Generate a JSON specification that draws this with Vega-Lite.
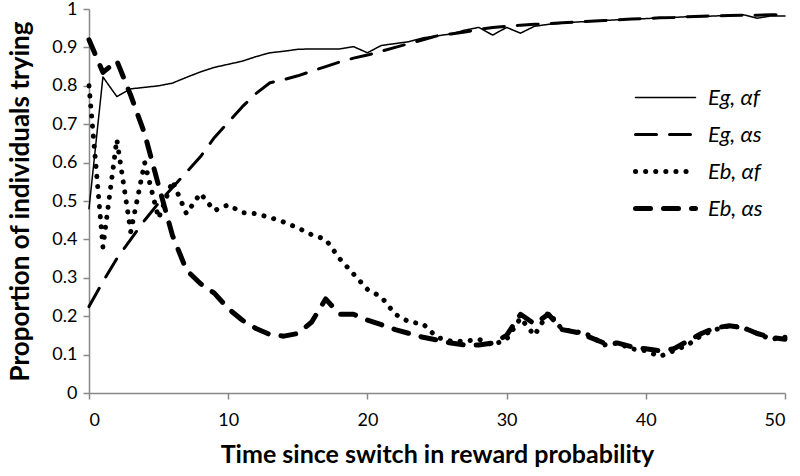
{
  "$schema": "https://vega.github.io/schema/vega-lite/v6.json",
  "width": 696,
  "height": 384,
  "autosize": {"type": "none"},
  "padding": {"left": 89, "top": 9, "right": 15, "bottom": 83},
  "background": "white",
  "config": {
    "view": {"stroke": null},
    "font": "Lato",
    "axis": {
      "grid": false,
      "domainColor": "#888888",
      "tickColor": "#888888",
      "domainWidth": 1.5,
      "tickWidth": 1.5,
      "tickSize": 6,
      "labelColor": "black",
      "labelFont": "Lato",
      "labelFontSize": 18,
      "titleFont": "Lato",
      "titleFontSize": 25,
      "titleFontWeight": "bold",
      "titleColor": "black"
    }
  },
  "data": {
    "values": [
      {"t":0,"s":"Eg, αf","v":0.48},{"t":1,"s":"Eg, αf","v":0.823},{"t":2,"s":"Eg, αf","v":0.772},{"t":3,"s":"Eg, αf","v":0.792},{"t":4,"s":"Eg, αf","v":0.796},{"t":5,"s":"Eg, αf","v":0.8},{"t":6,"s":"Eg, αf","v":0.807},{"t":7,"s":"Eg, αf","v":0.822},{"t":8,"s":"Eg, αf","v":0.836},{"t":9,"s":"Eg, αf","v":0.848},{"t":10,"s":"Eg, αf","v":0.856},{"t":11,"s":"Eg, αf","v":0.864},{"t":12,"s":"Eg, αf","v":0.876},{"t":13,"s":"Eg, αf","v":0.886},{"t":14,"s":"Eg, αf","v":0.89},{"t":15,"s":"Eg, αf","v":0.895},{"t":16,"s":"Eg, αf","v":0.896},{"t":17,"s":"Eg, αf","v":0.896},{"t":18,"s":"Eg, αf","v":0.896},{"t":19,"s":"Eg, αf","v":0.902},{"t":20,"s":"Eg, αf","v":0.886},{"t":21,"s":"Eg, αf","v":0.905},{"t":22,"s":"Eg, αf","v":0.91},{"t":23,"s":"Eg, αf","v":0.915},{"t":24,"s":"Eg, αf","v":0.925},{"t":25,"s":"Eg, αf","v":0.93},{"t":26,"s":"Eg, αf","v":0.935},{"t":27,"s":"Eg, αf","v":0.945},{"t":28,"s":"Eg, αf","v":0.952},{"t":29,"s":"Eg, αf","v":0.932},{"t":30,"s":"Eg, αf","v":0.952},{"t":31,"s":"Eg, αf","v":0.937},{"t":32,"s":"Eg, αf","v":0.955},{"t":33,"s":"Eg, αf","v":0.96},{"t":34,"s":"Eg, αf","v":0.963},{"t":35,"s":"Eg, αf","v":0.966},{"t":36,"s":"Eg, αf","v":0.968},{"t":37,"s":"Eg, αf","v":0.97},{"t":38,"s":"Eg, αf","v":0.972},{"t":39,"s":"Eg, αf","v":0.974},{"t":40,"s":"Eg, αf","v":0.975},{"t":41,"s":"Eg, αf","v":0.977},{"t":42,"s":"Eg, αf","v":0.978},{"t":43,"s":"Eg, αf","v":0.98},{"t":44,"s":"Eg, αf","v":0.98},{"t":45,"s":"Eg, αf","v":0.982},{"t":46,"s":"Eg, αf","v":0.983},{"t":47,"s":"Eg, αf","v":0.985},{"t":48,"s":"Eg, αf","v":0.976},{"t":49,"s":"Eg, αf","v":0.982},{"t":50,"s":"Eg, αf","v":0.982},

      {"t":0,"s":"Eg, αs","v":0.225},{"t":1,"s":"Eg, αs","v":0.29},{"t":2,"s":"Eg, αs","v":0.35},{"t":3,"s":"Eg, αs","v":0.4},{"t":4,"s":"Eg, αs","v":0.45},{"t":5,"s":"Eg, αs","v":0.495},{"t":6,"s":"Eg, αs","v":0.535},{"t":7,"s":"Eg, αs","v":0.575},{"t":8,"s":"Eg, αs","v":0.615},{"t":9,"s":"Eg, αs","v":0.665},{"t":10,"s":"Eg, αs","v":0.705},{"t":11,"s":"Eg, αs","v":0.745},{"t":12,"s":"Eg, αs","v":0.78},{"t":13,"s":"Eg, αs","v":0.808},{"t":14,"s":"Eg, αs","v":0.816},{"t":15,"s":"Eg, αs","v":0.826},{"t":16,"s":"Eg, αs","v":0.838},{"t":17,"s":"Eg, αs","v":0.85},{"t":18,"s":"Eg, αs","v":0.862},{"t":19,"s":"Eg, αs","v":0.872},{"t":20,"s":"Eg, αs","v":0.88},{"t":21,"s":"Eg, αs","v":0.89},{"t":22,"s":"Eg, αs","v":0.9},{"t":23,"s":"Eg, αs","v":0.91},{"t":24,"s":"Eg, αs","v":0.92},{"t":25,"s":"Eg, αs","v":0.93},{"t":26,"s":"Eg, αs","v":0.935},{"t":27,"s":"Eg, αs","v":0.94},{"t":28,"s":"Eg, αs","v":0.947},{"t":29,"s":"Eg, αs","v":0.952},{"t":30,"s":"Eg, αs","v":0.955},{"t":31,"s":"Eg, αs","v":0.958},{"t":32,"s":"Eg, αs","v":0.96},{"t":33,"s":"Eg, αs","v":0.962},{"t":34,"s":"Eg, αs","v":0.964},{"t":35,"s":"Eg, αs","v":0.966},{"t":36,"s":"Eg, αs","v":0.968},{"t":37,"s":"Eg, αs","v":0.97},{"t":38,"s":"Eg, αs","v":0.972},{"t":39,"s":"Eg, αs","v":0.974},{"t":40,"s":"Eg, αs","v":0.975},{"t":41,"s":"Eg, αs","v":0.977},{"t":42,"s":"Eg, αs","v":0.978},{"t":43,"s":"Eg, αs","v":0.98},{"t":44,"s":"Eg, αs","v":0.981},{"t":45,"s":"Eg, αs","v":0.982},{"t":46,"s":"Eg, αs","v":0.983},{"t":47,"s":"Eg, αs","v":0.984},{"t":48,"s":"Eg, αs","v":0.984},{"t":49,"s":"Eg, αs","v":0.985},{"t":50,"s":"Eg, αs","v":0.985},

      {"t":0,"s":"Eb, αf","v":0.8},{"t":1,"s":"Eb, αf","v":0.38},{"t":2,"s":"Eb, αf","v":0.66},{"t":3,"s":"Eb, αf","v":0.42},{"t":4,"s":"Eb, αf","v":0.6},{"t":5,"s":"Eb, αf","v":0.455},{"t":6,"s":"Eb, αf","v":0.552},{"t":7,"s":"Eb, αf","v":0.467},{"t":8,"s":"Eb, αf","v":0.52},{"t":9,"s":"Eb, αf","v":0.475},{"t":10,"s":"Eb, αf","v":0.49},{"t":11,"s":"Eb, αf","v":0.47},{"t":12,"s":"Eb, αf","v":0.467},{"t":13,"s":"Eb, αf","v":0.457},{"t":14,"s":"Eb, αf","v":0.445},{"t":15,"s":"Eb, αf","v":0.43},{"t":16,"s":"Eb, αf","v":0.412},{"t":17,"s":"Eb, αf","v":0.4},{"t":18,"s":"Eb, αf","v":0.35},{"t":19,"s":"Eb, αf","v":0.31},{"t":20,"s":"Eb, αf","v":0.27},{"t":21,"s":"Eb, αf","v":0.25},{"t":22,"s":"Eb, αf","v":0.205},{"t":23,"s":"Eb, αf","v":0.185},{"t":24,"s":"Eb, αf","v":0.18},{"t":25,"s":"Eb, αf","v":0.145},{"t":26,"s":"Eb, αf","v":0.135},{"t":27,"s":"Eb, αf","v":0.135},{"t":28,"s":"Eb, αf","v":0.14},{"t":29,"s":"Eb, αf","v":0.125},{"t":30,"s":"Eb, αf","v":0.14},{"t":31,"s":"Eb, αf","v":0.195},{"t":32,"s":"Eb, αf","v":0.15},{"t":33,"s":"Eb, αf","v":0.21},{"t":34,"s":"Eb, αf","v":0.165},{"t":35,"s":"Eb, αf","v":0.16},{"t":36,"s":"Eb, αf","v":0.15},{"t":37,"s":"Eb, αf","v":0.125},{"t":38,"s":"Eb, αf","v":0.13},{"t":39,"s":"Eb, αf","v":0.115},{"t":40,"s":"Eb, αf","v":0.11},{"t":41,"s":"Eb, αf","v":0.095},{"t":42,"s":"Eb, αf","v":0.11},{"t":43,"s":"Eb, αf","v":0.125},{"t":44,"s":"Eb, αf","v":0.15},{"t":45,"s":"Eb, αf","v":0.165},{"t":46,"s":"Eb, αf","v":0.175},{"t":47,"s":"Eb, αf","v":0.17},{"t":48,"s":"Eb, αf","v":0.155},{"t":49,"s":"Eb, αf","v":0.14},{"t":50,"s":"Eb, αf","v":0.145},

      {"t":0,"s":"Eb, αs","v":0.92},{"t":1,"s":"Eb, αs","v":0.835},{"t":2,"s":"Eb, αs","v":0.865},{"t":3,"s":"Eb, αs","v":0.775},{"t":4,"s":"Eb, αs","v":0.675},{"t":5,"s":"Eb, αs","v":0.54},{"t":6,"s":"Eb, αs","v":0.41},{"t":7,"s":"Eb, αs","v":0.32},{"t":8,"s":"Eb, αs","v":0.285},{"t":9,"s":"Eb, αs","v":0.26},{"t":10,"s":"Eb, αs","v":0.22},{"t":11,"s":"Eb, αs","v":0.19},{"t":12,"s":"Eb, αs","v":0.168},{"t":13,"s":"Eb, αs","v":0.152},{"t":14,"s":"Eb, αs","v":0.148},{"t":15,"s":"Eb, αs","v":0.155},{"t":16,"s":"Eb, αs","v":0.185},{"t":17,"s":"Eb, αs","v":0.245},{"t":18,"s":"Eb, αs","v":0.205},{"t":19,"s":"Eb, αs","v":0.205},{"t":20,"s":"Eb, αs","v":0.19},{"t":21,"s":"Eb, αs","v":0.178},{"t":22,"s":"Eb, αs","v":0.165},{"t":23,"s":"Eb, αs","v":0.155},{"t":24,"s":"Eb, αs","v":0.145},{"t":25,"s":"Eb, αs","v":0.138},{"t":26,"s":"Eb, αs","v":0.13},{"t":27,"s":"Eb, αs","v":0.125},{"t":28,"s":"Eb, αs","v":0.125},{"t":29,"s":"Eb, αs","v":0.13},{"t":30,"s":"Eb, αs","v":0.15},{"t":31,"s":"Eb, αs","v":0.205},{"t":32,"s":"Eb, αs","v":0.18},{"t":33,"s":"Eb, αs","v":0.205},{"t":34,"s":"Eb, αs","v":0.165},{"t":35,"s":"Eb, αs","v":0.158},{"t":36,"s":"Eb, αs","v":0.145},{"t":37,"s":"Eb, αs","v":0.13},{"t":38,"s":"Eb, αs","v":0.13},{"t":39,"s":"Eb, αs","v":0.12},{"t":40,"s":"Eb, αs","v":0.115},{"t":41,"s":"Eb, αs","v":0.11},{"t":42,"s":"Eb, αs","v":0.115},{"t":43,"s":"Eb, αs","v":0.135},{"t":44,"s":"Eb, αs","v":0.155},{"t":45,"s":"Eb, αs","v":0.17},{"t":46,"s":"Eb, αs","v":0.175},{"t":47,"s":"Eb, αs","v":0.17},{"t":48,"s":"Eb, αs","v":0.155},{"t":49,"s":"Eb, αs","v":0.145},{"t":50,"s":"Eb, αs","v":0.14}
    ]
  },
  "mark": {"type": "line", "color": "black", "strokeCap": "round", "strokeJoin": "round"},
  "encoding": {
    "x": {
      "field": "t", "type": "quantitative",
      "scale": {"domain": [0, 50], "nice": false},
      "axis": {"values": [0, 10, 20, 30, 40, 50], "title": "Time since switch in reward probability", "labelPadding": 12, "titlePadding": 13}
    },
    "y": {
      "field": "v", "type": "quantitative",
      "scale": {"domain": [0, 1], "nice": false},
      "axis": {"values": [0, 0.1, 0.2, 0.3, 0.4, 0.5, 0.6, 0.7, 0.8, 0.9, 1], "format": ".1~f", "title": "Proportion of individuals trying", "titleFontSize": 26, "labelPadding": 6, "titlePadding": 18}
    },
    "detail": {"field": "s"},
    "strokeDash": {
      "field": "s", "type": "nominal",
      "scale": {"type": "ordinal", "domain": ["Eg, αf", "Eg, αs", "Eb, αf", "Eb, αs"], "range": [[1, 0], [21, 13], [0.1, 10], [15, 13]]},
      "legend": {
        "orient": "none", "legendX": 544, "legendY": 70, "title": null,
        "symbolType": "stroke", "symbolSize": 3600, "symbolStrokeColor": "black",
        "labelFontSize": 22, "labelFont": "Lato", "labelFontStyle": "italic", "labelColor": "black", "labelOffset": 10,
        "rowPadding": 0, "clipHeight": 37,
        "encode": {"symbols": {"update": {"strokeCap": {"value": "round"}}}}
      }
    },
    "strokeWidth": {
      "field": "s", "type": "nominal",
      "scale": {"type": "ordinal", "domain": ["Eg, αf", "Eg, αs", "Eb, αf", "Eb, αs"], "range": [1.5, 3, 5, 5]},
      "legend": {
        "orient": "none", "legendX": 544, "legendY": 70, "title": null,
        "symbolType": "stroke", "symbolSize": 3600, "symbolStrokeColor": "black",
        "labelFontSize": 22, "labelFont": "Lato", "labelFontStyle": "italic", "labelColor": "black", "labelOffset": 10,
        "rowPadding": 0, "clipHeight": 37,
        "encode": {"symbols": {"update": {"strokeCap": {"value": "round"}}}}
      }
    }
  }
}
